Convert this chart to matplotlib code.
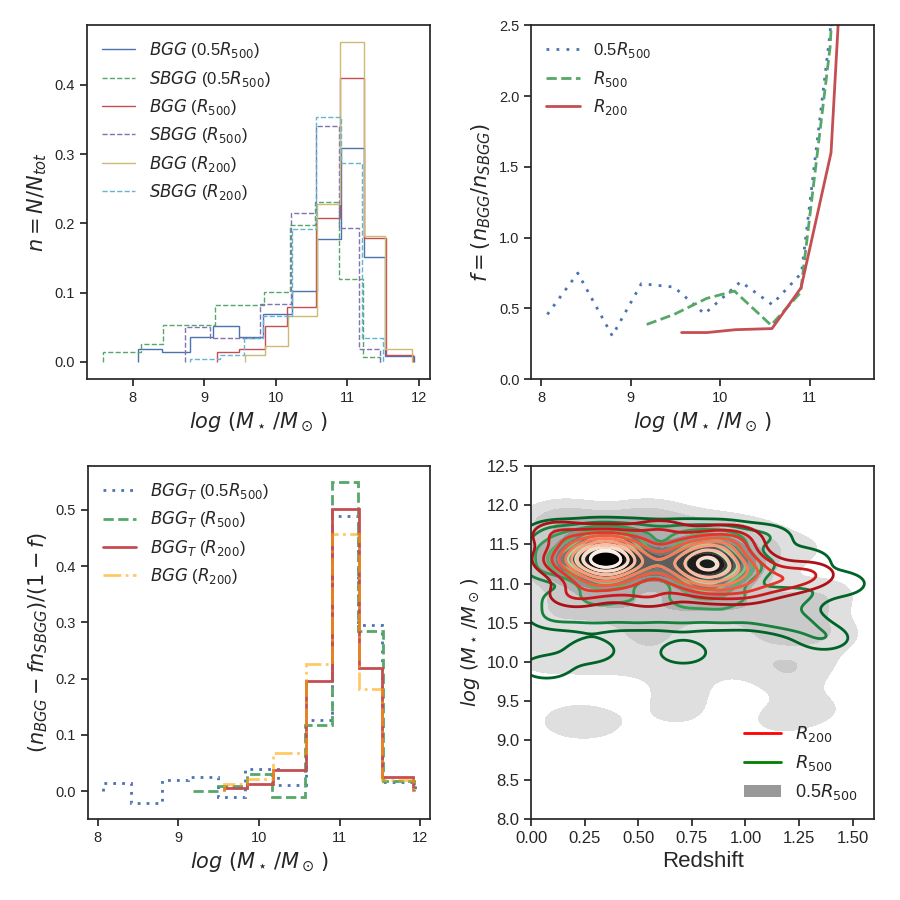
import numpy as np
import matplotlib
matplotlib.use("Agg")
import matplotlib.pyplot as plt
import seaborn as sns
from matplotlib.lines import Line2D
from matplotlib.patches import Patch

sns.set_style("ticks")
plt.rcParams['font.family'] = ['Liberation Sans', 'DejaVu Sans']
plt.rcParams['mathtext.fontset'] = 'dejavusans'

# old seaborn "deep" colours
c_blue, c_green, c_red, c_purple, c_yellow, c_cyan = (
    "#4C72B0", "#55A868", "#C44E52", "#8172B2", "#CCB974", "#64B5CD")

# ---- top left: normalised histograms (bin edges + heights) ----
edges_bgg05 = [8.07, 8.41, 8.795, 9.12, 9.486, 9.826, 10.23, 10.58, 10.91, 11.23, 11.53, 11.93]
n_bgg05 = [0.0183, 0.014, 0.0356, 0.0515, 0.0356, 0.0688, 0.102, 0.178, 0.309, 0.152, 0.008]
edges_sbgg05 = [7.58, 8.12, 8.43, 9.15, 9.835, 10.196, 10.555, 10.887, 11.224, 11.457]
n_sbgg05 = [0.015, 0.0255, 0.053, 0.082, 0.1006, 0.198, 0.231, 0.120, 0.0077]
edges_bgg500 = [9.18, 9.486, 9.85, 10.16, 10.57, 10.90, 11.23, 11.54, 11.92]
n_bgg500 = [0.0145, 0.0185, 0.0515, 0.080, 0.208, 0.41, 0.179, 0.0096]
edges_sbgg500 = [8.73, 9.085, 9.786, 10.22, 10.57, 10.89, 11.17, 11.457]
n_sbgg500 = [0.050, 0.034, 0.083, 0.215, 0.341, 0.194, 0.018]
edges_bgg200 = [9.57, 9.855, 10.17, 10.58, 10.905, 11.24, 11.53, 11.906]
n_bgg200 = [0.0096, 0.0226, 0.067, 0.228, 0.4615, 0.1817, 0.0183]
edges_sbgg200 = [8.80, 9.215, 9.55, 9.826, 10.23, 10.57, 10.915, 11.21, 11.50]
n_sbgg200 = [0.0048, 0.0096, 0.034, 0.067, 0.192, 0.353, 0.2865, 0.0346]

# ---- top right: ratio f at the left bin edges ----
x_f05 = edges_bgg05[:-1]
f05 = [0.458, 0.75, 0.307, 0.675, 0.651, 0.462, 0.689, 0.528, 0.75, 2.45, 7.0]
x_f500 = edges_bgg500[:-1]
f500 = [0.387, 0.458, 0.571, 0.623, 0.382, 0.613, 2.35, 6.0]
x_f200 = edges_bgg200[:-1]
f200 = [0.33, 0.33, 0.35, 0.358, 0.646, 1.6, 4.9]

# ---- bottom left: corrected histograms ----
nt_05 = [0.0137, -0.0214, 0.019, 0.0243, -0.0095, 0.0386, 0.0101, 0.126, 0.489, 0.296, 0.016]
nt_500 = [0.0006, 0.0083, 0.030, -0.0095, 0.117, 0.55, 0.284, 0.0184]
nt_200 = [0.0048, 0.012, 0.0368, 0.196, 0.501, 0.219, 0.0243]
n_bgg200_b = [0.013, 0.0225, 0.067, 0.226, 0.457, 0.182, 0.0196]

# ---- bottom right: (redshift, log M*) of the galaxies ----
# galaxies common to all three samples (two groups around z~0.35 and z~0.82)
z_com = [0.35, 0.35, 0.25, 0.45, 0.35, 0.35, 0.25, 0.45, 0.25, 0.45, 0.13, 0.35, 0.35,
         0.82, 0.72, 0.92, 0.82, 0.82, 0.72, 0.92, 0.72, 0.92, 1.04, 0.82, 0.82, 0.585]
m_com = [11.30, 11.31, 11.30, 11.30, 11.15, 11.45, 11.15, 11.15, 11.45, 11.45, 11.30, 10.98, 11.58,
         11.24, 11.24, 11.24, 11.09, 11.39, 11.09, 11.09, 11.39, 11.39, 11.20, 10.92, 11.52, 11.26]

z_05 = z_com + [0.35, 0.82,
                0.05, 0.25, 0.45, 0.65, 0.85, 1.05, 1.25, 0.15, 0.55,
                0.10, 0.25, 0.40, 0.55, 0.70, 0.85, 1.00, 1.15, 1.30,
                0.05, 0.45, 0.65, 1.05, 1.25, 1.42,
                0.05, 0.30, 0.55, 0.80, 1.05, 1.30,
                0.03, 0.03, 1.38,
                0.17, 0.30, 0.70, 0.68, 1.20, 1.33, 1.15]
m_05 = m_com + [11.31, 11.25,
                11.75, 11.75, 11.75, 11.75, 11.72, 11.65, 11.45, 11.90, 11.90,
                10.70, 10.70, 10.70, 10.70, 10.70, 10.70, 10.70, 10.70, 10.70,
                10.35, 10.35, 10.35, 10.35, 10.40, 10.35,
                10.00, 10.00, 10.00, 10.00, 10.00, 10.00,
                11.05, 11.40, 10.90,
                9.25, 9.22, 9.65, 9.35, 9.75, 9.40, 9.25]

z_500 = z_com + [0.10, 0.30, 0.50, 0.70, 0.90, 1.10, 1.28,
                 0.10, 0.30, 0.50, 0.70, 0.90, 1.10, 1.25,
                 0.10, 0.30, 0.50, 0.70, 0.90, 1.10, 1.25,
                 0.03, 0.03, 1.45, 1.37,
                 0.07, 0.28, 0.71]
m_500 = m_com + [11.66, 11.66, 11.66, 11.66, 11.65, 11.60, 11.30,
                 10.82, 10.82, 10.82, 10.82, 10.82, 10.82, 10.85,
                 10.57, 10.57, 10.57, 10.57, 10.57, 10.57, 10.50,
                 11.15, 11.45, 11.00, 10.30,
                 9.93, 10.14, 10.12]

z_200 = z_com + [0.20, 0.55, 1.00, 1.16, 1.30, 0.12, 0.60, 0.95]
m_200 = m_com + [10.85, 10.85, 10.90, 11.02, 11.12, 11.64, 11.66, 11.58]


def kde_grid(zs, ms, bw_z, bw_m):
    gz = np.linspace(-0.3, 1.9, 300)
    gm = np.linspace(7.8, 12.7, 300)
    Z, M = np.meshgrid(gz, gm)
    d = np.zeros_like(Z)
    for z, m in zip(zs, ms):
        d += np.exp(-0.5 * (((Z - z) / bw_z) ** 2 + ((M - m) / bw_m) ** 2))
    return Z, M, d


def style_ax(ax, size=10.5):
    ax.tick_params(direction='out', length=5, width=1.25, colors='.15', labelsize=size)
    for s in ax.spines.values():
        s.set_linewidth(1.25)
        s.set_color('.15')


fig = plt.figure(figsize=(9, 9), dpi=100)
ax1 = fig.add_axes([0.0967, 0.5786, 0.3811, 0.3933])
ax2 = fig.add_axes([0.5903, 0.5786, 0.3808, 0.3933])
ax3 = fig.add_axes([0.0978, 0.0903, 0.3800, 0.3919])
ax4 = fig.add_axes([0.5903, 0.0903, 0.3808, 0.3919])

mlabel = r'$log\ (M_\star\,/M_\odot\,)$'
lab = 15

# top left
ax1.stairs(n_bgg05, edges_bgg05, color=c_blue, lw=1.0, label=r'$BGG$ (0.5$R_{500}$)')
ax1.stairs(n_sbgg05, edges_sbgg05, color=c_green, lw=1.0, ls='--', label=r'$SBGG$ (0.5$R_{500}$)')
ax1.stairs(n_bgg500, edges_bgg500, color=c_red, lw=1.0, label=r'$BGG$ ($R_{500}$)')
ax1.stairs(n_sbgg500, edges_sbgg500, color=c_purple, lw=1.0, ls='--', label=r'$SBGG$ ($R_{500}$)')
ax1.stairs(n_bgg200, edges_bgg200, color=c_yellow, lw=1.0, label=r'$BGG$ ($R_{200}$)')
ax1.stairs(n_sbgg200, edges_sbgg200, color=c_cyan, lw=1.0, ls='--', label=r'$SBGG$ ($R_{200}$)')
ax1.set_xlim(7.36, 12.16)
ax1.set_ylim(-0.025, 0.486)
ax1.set_xticks([8, 9, 10, 11, 12])
ax1.set_yticks([0.0, 0.1, 0.2, 0.3, 0.4])
ax1.set_xlabel(mlabel, fontsize=lab)
ax1.set_ylabel(r'$n = N/N_{tot}$', fontsize=lab)
ax1.legend(loc='upper left', frameon=False, fontsize=12)
style_ax(ax1)

# top right
ax2.plot(x_f05, f05, color=c_blue, lw=2, ls=(0, (1, 2.6)), label=r'0.5$R_{500}$')
ax2.plot(x_f500, f500, color=c_green, lw=2, ls='--', label=r'$R_{500}$')
ax2.plot(x_f200, f200, color=c_red, lw=2, label=r'$R_{200}$')
ax2.set_xlim(7.89, 11.72)
ax2.set_ylim(0, 2.5)
ax2.set_xticks([8, 9, 10, 11])
ax2.set_yticks([0.0, 0.5, 1.0, 1.5, 2.0, 2.5])
ax2.set_xlabel(mlabel, fontsize=lab)
ax2.set_ylabel(r'$f = (n_{BGG}/n_{SBGG})$', fontsize=lab)
ax2.legend(loc='upper left', frameon=False, fontsize=12)
style_ax(ax2)

# bottom left
ax3.stairs(nt_05, edges_bgg05, color=c_blue, lw=2, ls=(0, (1, 2.2)), label=r'$BGG_T$ (0.5$R_{500}$)')
ax3.stairs(nt_500, edges_bgg500, color=c_green, lw=2, ls='--', label=r'$BGG_T$ ($R_{500}$)')
ax3.stairs(nt_200, edges_bgg200, color=c_red, lw=2, label=r'$BGG_T$ ($R_{200}$)')
ax3.stairs(n_bgg200_b, edges_bgg200, color='orange', alpha=0.6, lw=2, ls='-.', label=r'$BGG$ ($R_{200}$)')
ax3.set_xlim(7.88, 12.12)
ax3.set_ylim(-0.049, 0.578)
ax3.set_xticks([8, 9, 10, 11, 12])
ax3.set_yticks([0.0, 0.1, 0.2, 0.3, 0.4, 0.5])
ax3.set_xlabel(mlabel, fontsize=lab)
ax3.set_ylabel(r'$(n_{BGG} - fn_{SBGG})/(1-f)$', fontsize=lab)
ax3.legend(loc='upper left', frameon=False, fontsize=12)
style_ax(ax3)

# bottom right: density contours
Z, M, d = kde_grid(z_05, m_05, 0.13, 0.18)
lv = list(np.linspace(0, d.max(), 11)[1:])
lv[-1] = d.max() * 1.001
ax4.contourf(Z, M, d, levels=lv, colors=plt.cm.Greys(np.linspace(0.22, 1.0, len(lv) - 1)))
Z, M, d = kde_grid(z_500, m_500, 0.10, 0.13)
lv = np.linspace(0, d.max(), 11)[1:-1]
ax4.contour(Z, M, d, levels=lv, colors=plt.cm.Greens_r(np.linspace(0.1, 0.95, len(lv))), linewidths=2)
Z, M, d = kde_grid(z_200, m_200, 0.10, 0.13)
lv = np.linspace(0, d.max(), 11)[1:-1]
ax4.contour(Z, M, d, levels=lv, colors=plt.cm.Reds_r(np.linspace(0.15, 0.95, len(lv))), linewidths=2)
ax4.set_xlim(0, 1.6)
ax4.set_ylim(8.0, 12.5)
ax4.set_xticks([0.0, 0.25, 0.5, 0.75, 1.0, 1.25, 1.5])
ax4.set_xticklabels(['0.00', '0.25', '0.50', '0.75', '1.00', '1.25', '1.50'])
ax4.set_yticks(np.arange(8.0, 12.51, 0.5))
ax4.set_xlabel('Redshift', fontsize=16)
ax4.set_ylabel(mlabel, fontsize=14)
handles = [Line2D([], [], color='red', lw=2), Line2D([], [], color='green', lw=2),
           Patch(facecolor='0.6', edgecolor='none')]
ax4.legend(handles, [r'$R_{200}$', r'$R_{500}$', r'0.5$R_{500}$'], loc='lower right',
           frameon=False, fontsize=13)
style_ax(ax4, size=12)

fig.savefig('out.png', dpi=100)
